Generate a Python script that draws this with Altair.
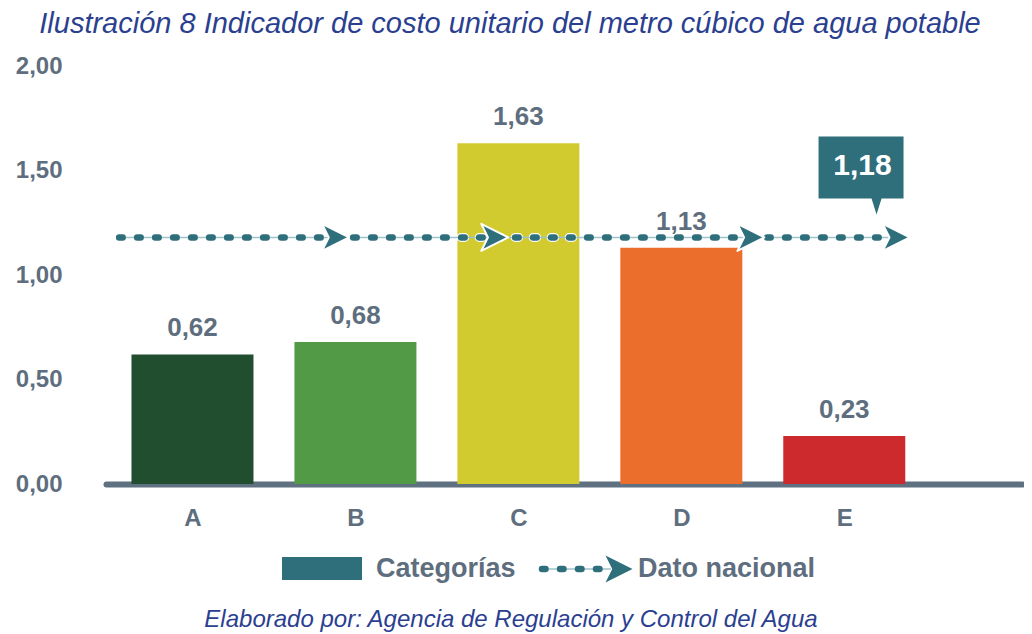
import altair as alt
import pandas as pd

# ---------------- data ----------------
categories = ["A", "B", "C", "D", "E"]
values = [0.62, 0.68, 1.63, 1.13, 0.23]
bar_colors = ["#214e2f", "#529a46", "#d2cb2f", "#ec6e2c", "#cc2a2d"]
national_value = 1.18
national_label = "1,18"
# extent of the national line and arrow marks, in category-index units (A = 0)
line_start = -0.45
line_end = 4.32
arrow_positions = [0.878, 1.855, 3.427, 4.319]
callout_x = 4.198
y_ticks = [0.0, 0.5, 1.0, 1.5, 2.0]

title_text = "Ilustración 8 Indicador de costo unitario del metro cúbico de agua potable"
credit_text = "Elaborado por: Agencia de Regulación y Control del Agua"
legend_labels = ["Categorías", "Dato nacional"]

# ---------------- styles ----------------
GRAY = "#5e6e7e"
TEAL = "#2f6f7b"
LIGHT_TEAL = "#9fc3ca"
BLUE = "#2b3f90"
AXIS_LINE = "#5f7080"
FONT = "Liberation Sans"
ARROW = "M-1,-1 L1,0 L-1,1 L-0.5,0 Z"
CALLOUT = "M0,-0.46 L-0.1,-0.78 L-1.16,-0.78 L-1.16,-2.02 L0.54,-2.02 L0.54,-0.78 L0.1,-0.78 Z"

bars_df = pd.DataFrame({
    "idx": list(range(len(categories))),
    "cat": categories,
    "value": values,
    "label": [f"{v:.2f}".replace(".", ",") for v in values],
})
line_df = pd.DataFrame({"x": [line_start], "x2": [line_end], "y": [national_value]})
arrow_df = pd.DataFrame({"x": arrow_positions, "y": [national_value] * len(arrow_positions)})
callout_df = pd.DataFrame({"x": [callout_x], "y": [national_value], "label": [national_label]})
one = pd.DataFrame({"k": [0]})

xscale = alt.Scale(domain=[-0.5, 5.06], nice=False, zero=False)
yscale = alt.Scale(domain=[0, 2], nice=False)
label_expr = "[" + ",".join(f"'{c}'" for c in categories) + "][datum.value]"

x_axis = alt.Axis(
    values=list(range(len(categories))), labelExpr=label_expr, title=None,
    grid=False, ticks=False, tickSize=0,
    domainColor=AXIS_LINE, domainWidth=6, domainCap="round",
    labelFont=FONT, labelFontSize=24, labelFontWeight="bold",
    labelColor=GRAY, labelPadding=22,
)
y_axis = alt.Axis(
    values=y_ticks, labelExpr="replace(format(datum.value, '.2f'), '.', ',')",
    title=None, grid=False, ticks=False, tickSize=0, domain=False,
    labelFont=FONT, labelFontSize=24, labelFontWeight="bold",
    labelColor=GRAY, labelPadding=44,
)

base = alt.Chart(bars_df)
bars = base.mark_bar(width=122).encode(
    x=alt.X("idx:Q", scale=xscale, axis=x_axis),
    y=alt.Y("value:Q", scale=yscale, axis=y_axis),
    color=alt.Color("cat:N", scale=alt.Scale(domain=categories, range=bar_colors), legend=None),
)
bar_labels = base.mark_text(
    dy=-18, baseline="alphabetic", align="center",
    font=FONT, fontSize=26, fontWeight="bold", color=GRAY,
).encode(x=alt.X("idx:Q", scale=xscale), y=alt.Y("value:Q", scale=yscale), text="label:N")

lc = alt.Chart(line_df)
enc_line = dict(x=alt.X("x:Q", scale=xscale), x2="x2:Q", y=alt.Y("y:Q", scale=yscale))
line_white = lc.mark_rule(color="white", strokeWidth=9, strokeDash=[3.5, 14.5], strokeCap="round").encode(**enc_line)
line_thin = lc.mark_rule(color=LIGHT_TEAL, strokeWidth=1.5).encode(**enc_line)
line_dots = lc.mark_rule(color=TEAL, strokeWidth=6.5, strokeDash=[3.5, 14.5], strokeCap="round").encode(**enc_line)

arrows = alt.Chart(arrow_df).mark_point(
    shape=ARROW, size=729, filled=True, fill=TEAL, opacity=1,
    stroke="white", strokeWidth=2, strokeJoin="round",
).encode(x=alt.X("x:Q", scale=xscale), y=alt.Y("y:Q", scale=yscale))

callout_box = alt.Chart(callout_df).mark_point(
    shape=CALLOUT, size=10000, filled=True, fill=TEAL, opacity=1, strokeWidth=0,
).encode(x=alt.X("x:Q", scale=xscale), y=alt.Y("y:Q", scale=yscale))
callout_text = alt.Chart(callout_df).mark_text(
    dx=-14, dy=-71, baseline="middle", align="center",
    font=FONT, fontSize=30, fontWeight="bold", color="white",
).encode(x=alt.X("x:Q", scale=xscale), y=alt.Y("y:Q", scale=yscale), text="label:N")

# ---------------- title, legend, credit ----------------
oc = alt.Chart(one)
title = oc.mark_text(
    align="center", baseline="alphabetic", font=FONT, fontSize=29,
    fontStyle="italic", color=BLUE,
).encode(x=alt.value(404), y=alt.value(-33), text=alt.value(title_text))

leg_swatch = oc.mark_rect(color=TEAL).encode(
    x=alt.value(176), x2=alt.value(256), y=alt.value(491), y2=alt.value(514))
leg_text1 = oc.mark_text(
    align="left", baseline="middle", font=FONT, fontSize=27, fontWeight="bold", color=GRAY,
).encode(x=alt.value(270), y=alt.value(503), text=alt.value(legend_labels[0]))
leg_thin = oc.mark_rule(color=LIGHT_TEAL, strokeWidth=1.5).encode(
    x=alt.value(434), x2=alt.value(505), y=alt.value(503))
leg_dots = oc.mark_rule(color=TEAL, strokeWidth=6.5, strokeDash=[3.5, 14.5], strokeCap="round").encode(
    x=alt.value(436), x2=alt.value(500), y=alt.value(503))
leg_arrow = oc.mark_point(
    shape=ARROW, size=729, filled=True, fill=TEAL, opacity=1, strokeWidth=0,
).encode(x=alt.value(513), y=alt.value(503))
leg_text2 = oc.mark_text(
    align="left", baseline="middle", font=FONT, fontSize=27, fontWeight="bold", color=GRAY,
).encode(x=alt.value(532), y=alt.value(503), text=alt.value(legend_labels[1]))

credit = oc.mark_text(
    align="center", baseline="alphabetic", font=FONT, fontSize=24,
    fontStyle="italic", color=BLUE,
).encode(x=alt.value(405), y=alt.value(561), text=alt.value(credit_text))

chart = alt.layer(
    bars, bar_labels, line_white, line_thin, line_dots, arrows,
    callout_box, callout_text, title,
    leg_swatch, leg_text1, leg_thin, leg_dots, leg_arrow, leg_text2, credit,
).properties(
    width=916, height=418,
    autosize=alt.AutoSizeParams(type="none"),
    padding={"left": 98, "top": 58, "right": 2, "bottom": 150},
).configure_view(strokeWidth=0)

chart.save("out.html", embed_options={"renderer": "svg", "actions": False})
